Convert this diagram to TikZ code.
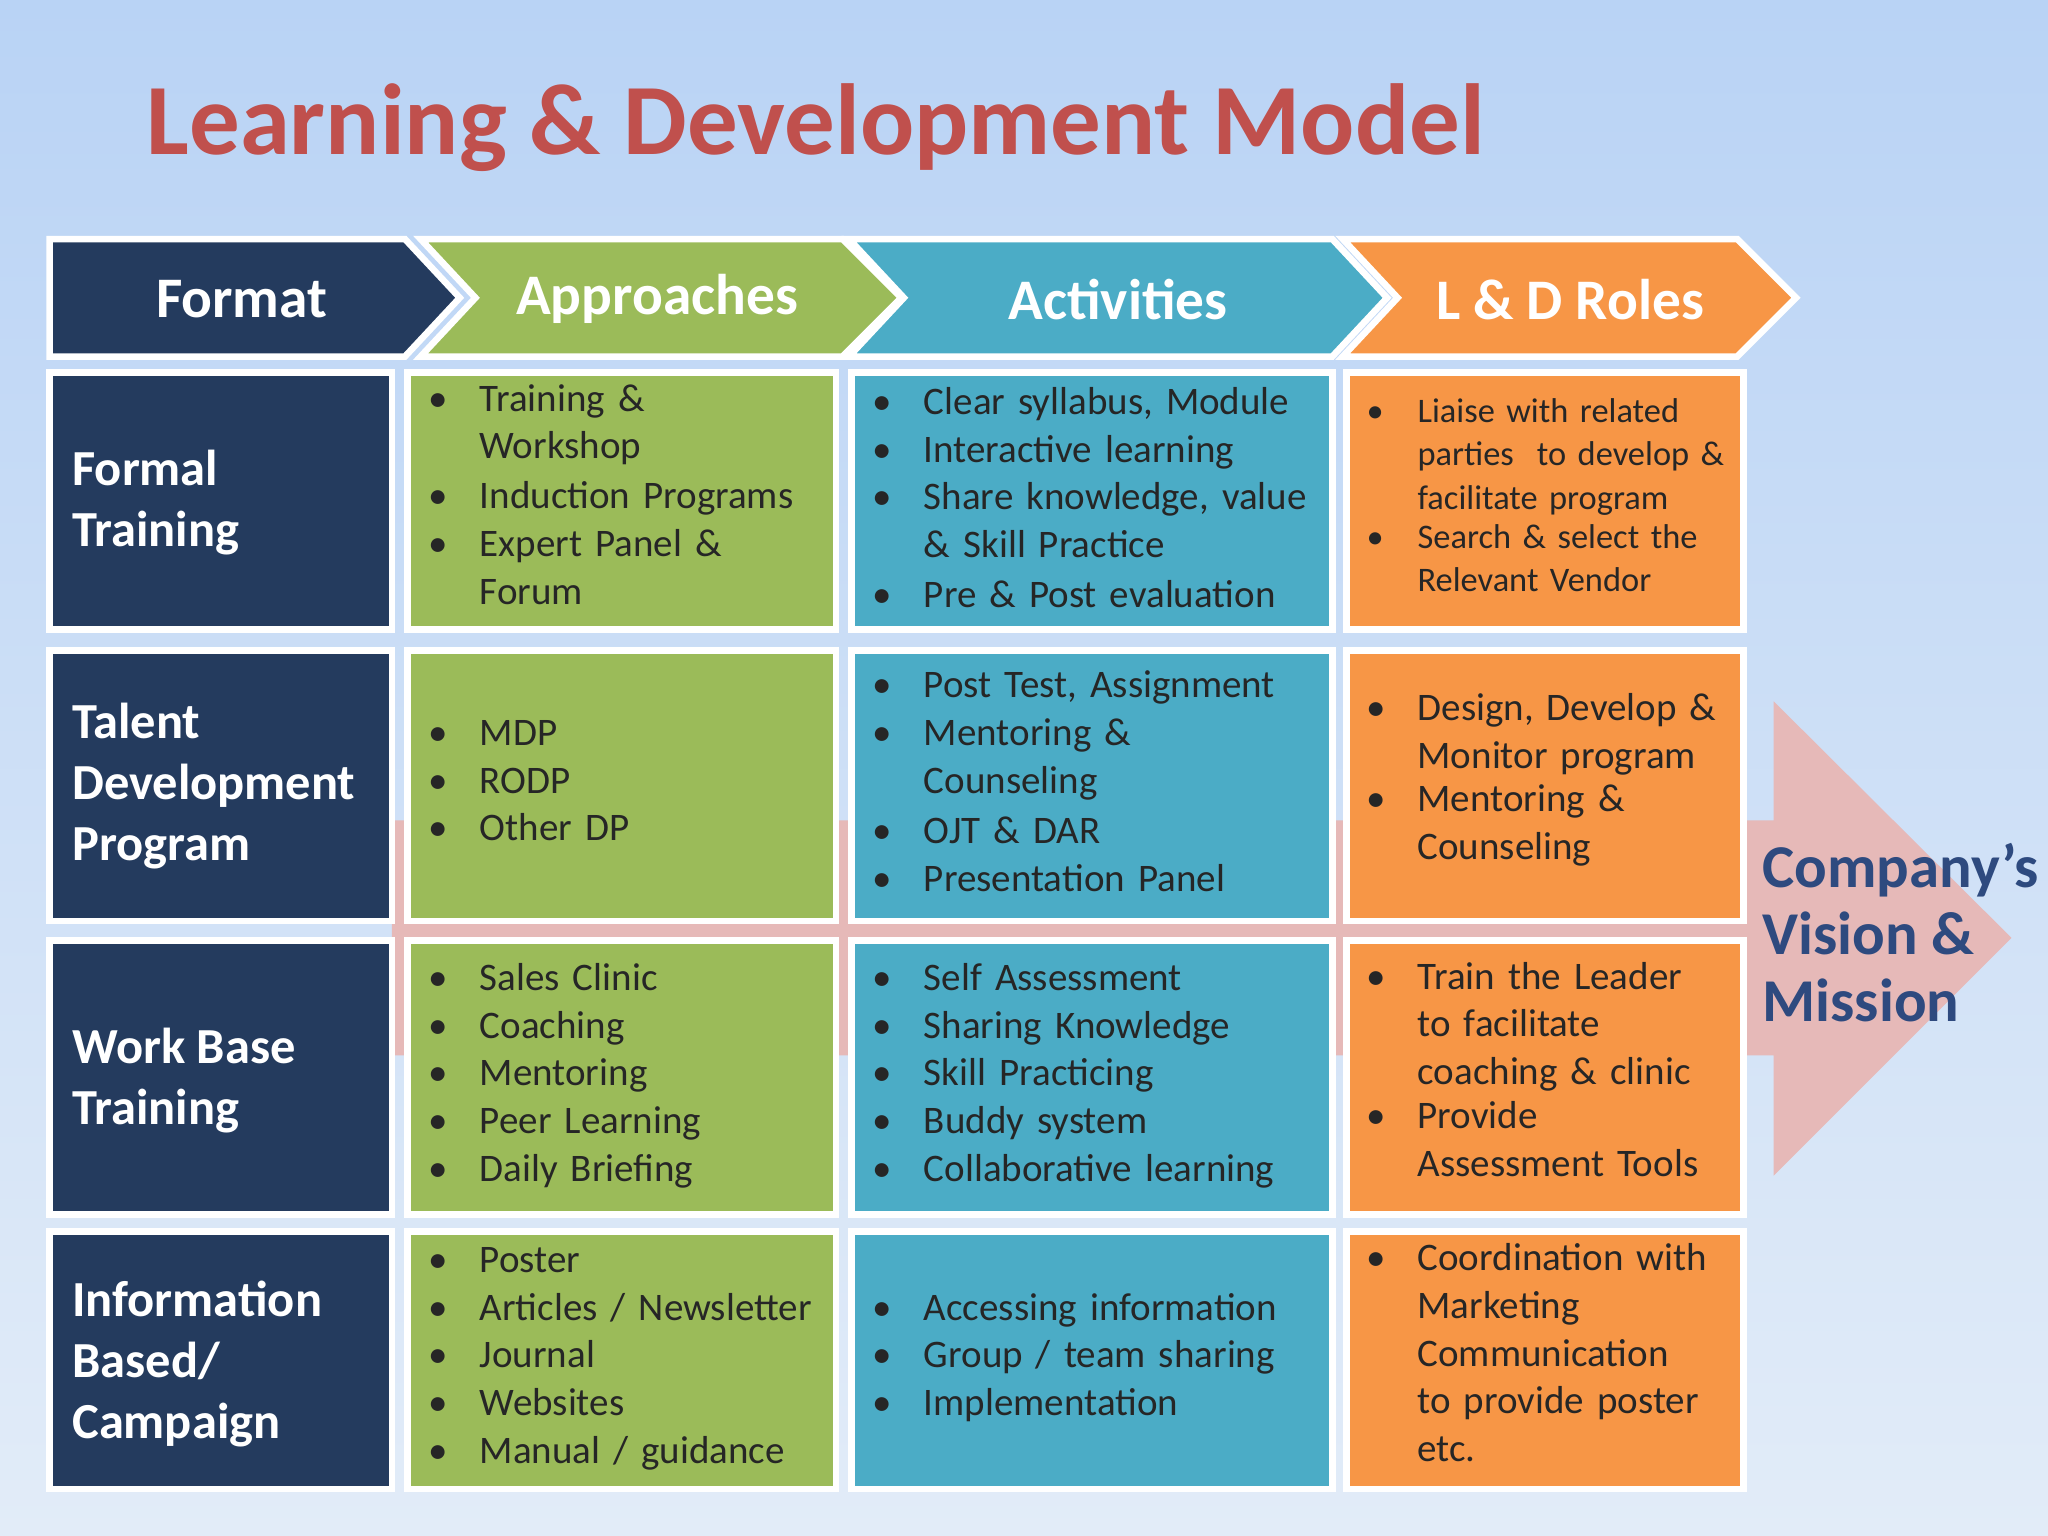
\documentclass[tikz,border=0pt]{standalone}
\usepackage{fontspec}
\setmainfont{Carlito}
\usetikzlibrary{shadows}
\definecolor{navy}{HTML}{243B5E}
\definecolor{grn}{HTML}{9BBB59}
\definecolor{blu}{HTML}{4BACC6}
\definecolor{org}{HTML}{F79646}
\definecolor{ttl}{HTML}{C0504D}
\definecolor{pnk}{HTML}{E6B9B8}
\definecolor{cmp}{HTML}{2E4A7F}
\definecolor{bgtop}{HTML}{B9D3F5}
\definecolor{bgbot}{HTML}{E2ECF8}
\newcommand\itm[1]{\noindent\makebox[0.78cm][l]{\textbullet}\parbox[t]{\dimexpr\linewidth-0.78cm}{\raggedright #1\strut}\par}
\tikzset{
 cell/.style={draw=white,line width=0.1cm,drop shadow={opacity=0.25,shadow xshift=0.05cm,shadow yshift=-0.05cm}},
 chev/.style={draw=white,line width=0.1cm},
 body/.style={anchor=west,inner sep=0,text width=#1,align=left,font=\fontsize{17}{20.8}\selectfont,text=black!85},
 lab/.style={anchor=west,inner sep=0,align=left,text=white,font=\fontsize{22}{26.6}\selectfont\bfseries},
 hd/.style={text=white,font=\fontsize{25}{30}\selectfont\bfseries}
}
\begin{document}
\begin{tikzpicture}[x=0.02cm,y=-0.02cm]
\shade[top color=bgtop,bottom color=bgbot] (0,0) rectangle (1568,1176);
\useasboundingbox (0,0) rectangle (1568,1176);
\node[anchor=west,text=ttl,font=\fontsize{44}{48}\selectfont\bfseries] (title) at (106,98) {Learning \& Development Model};
% big arrow
\fill[pnk] (300,628) -- (1358,628) -- (1358,537) -- (1540,718) -- (1358,900) -- (1358,808) -- (300,808) -- cycle;
% headers
\draw[chev,fill=org] (1028,183) -- (1330,183) -- (1375,228) -- (1330,273) -- (1028,273) -- (1070,228) -- cycle;
\draw[chev,fill=blu] (650,183) -- (1020,183) -- (1062,228) -- (1020,273) -- (650,273) -- (692,228) -- cycle;
\draw[chev,fill=grn] (322,183) -- (645,183) -- (690,228) -- (645,273) -- (322,273) -- (364,228) -- cycle;
\draw[chev,fill=navy] (38,183) -- (310,183) -- (352,228) -- (310,273) -- (38,273) -- cycle;
\node[hd] (h1) at (185,229) {Format};
\node[hd] (h2) at (503,229) {Approaches};
\node[hd] (h3) at (856,229) {Activities};
\node[hd] (h4) at (1202,229) {L \& D Roles};
% cells
\foreach \ya/\yb in {285/482,498/705,720/930,943/1140}{
 \draw[cell,fill=navy] (38,\ya) rectangle (300,\yb);
 \draw[cell,fill=grn] (312,\ya) rectangle (640,\yb);
 \draw[cell,fill=blu] (652,\ya) rectangle (1020,\yb);
 \draw[cell,fill=org] (1031,\ya) rectangle (1335,\yb);
}
% row labels
\node[lab] (r1) at (55,385) {Formal\\Training};
\node[lab] (r2) at (55,602) {Talent\\Development\\Program};
\node[lab] (r3) at (55,827) {Work Base\\Training};
\node[lab] (r4) at (55,1044) {Information\\Based/\\Campaign};
% col2
\node[body=6cm] (a1) at (328,384) {\itm{Training \&\\Workshop}\itm{Induction Programs}\itm{Expert Panel \&\\Forum}};
\node[body=6cm] (a2) at (328,600) {\itm{MDP}\itm{RODP}\itm{Other DP}};
\node[body=6cm] (a3) at (328,824) {\itm{Sales Clinic}\itm{Coaching}\itm{Mentoring}\itm{Peer Learning}\itm{Daily Briefing}};
\node[body=6cm] (a4) at (328,1040) {\itm{Poster}\itm{Articles / Newsletter}\itm{Journal}\itm{Websites}\itm{Manual / guidance}};
% col3
\node[body=7cm] (b1) at (668,384) {\itm{Clear syllabus, Module}\itm{Interactive learning}\itm{Share knowledge, value\\\& Skill Practice}\itm{Pre \& Post evaluation}};
\node[body=7cm] (b2) at (668,601) {\itm{Post Test, Assignment}\itm{Mentoring \&\\Counseling}\itm{OJT \& DAR}\itm{Presentation Panel}};
\node[body=7cm] (b3) at (668,824) {\itm{Self Assessment}\itm{Sharing Knowledge}\itm{Skill Practicing}\itm{Buddy system}\itm{Collaborative learning}};
\node[body=7cm] (b4) at (668,1040) {\itm{Accessing information}\itm{Group / team sharing}\itm{Implementation}};
% col4
\node[body=6cm,font=\fontsize{15}{18.9}\selectfont] (c1) at (1046,384) {\itm{Liaise with related\\parties\ \ to develop \&\\facilitate program}\itm{Search \& select the\\Relevant Vendor}};
\node[body=6cm] (c2) at (1046,600) {\itm{Design, Develop \&\\Monitor program}\itm{Mentoring \&\\Counseling}};
\node[body=6cm] (c3) at (1046,824) {\itm{Train the Leader\\to facilitate\\coaching \& clinic}\itm{Provide\\Assessment Tools}};
\node[body=6cm] (c4) at (1046,1041) {\itm{Coordination with\\Marketing\\Communication\\to provide poster\\etc.}};
\node[anchor=west,inner sep=0,align=left,text=cmp,font=\fontsize{26.5}{29}\selectfont\bfseries] (cv) at (1349,714) {Company’s\\Vision \&\\Mission};
\end{tikzpicture}
\end{document}
